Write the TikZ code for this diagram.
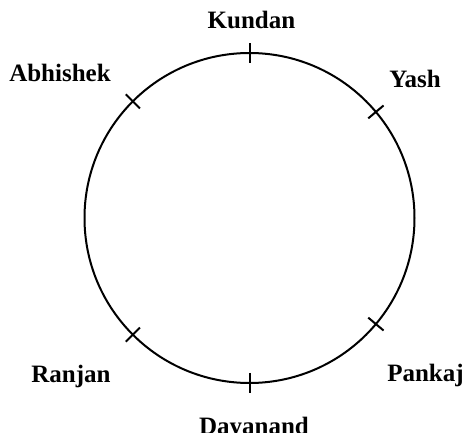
\documentclass[tikz,border=0pt]{standalone}
\usepackage{fontspec}
\setmainfont{Liberation Serif}
\usetikzlibrary{calc}
\begin{document}
\begin{tikzpicture}[x=1pt,y=-1pt,
  ring/.style={line width=2pt},
  tick/.style={line width=2pt},
  lbl/.style={anchor=base,inner sep=0pt,font=\fontsize{25}{30}\selectfont\bfseries}]
\useasboundingbox (0,0) rectangle (467,433);
\coordinate (c) at (249.5,218);
\draw[ring] (c) circle[radius=165];
\foreach \a in {90,40,-40,270,225,135}{
  \draw[tick] ($(c)+(-\a:155)$) -- ($(c)+(-\a:175)$);
}
\node[lbl] (kundan) at (251.5,29) {Kundan};
\node[lbl] (yash) at (415,88) {Yash};
\node[lbl] (abhishek) at (60,82) {Abhishek};
\node[lbl] (pankaj) at (425.5,382) {Pankaj};
\node[lbl] (ranjan) at (71,383) {Ranjan};
\node[lbl] (dayanand) at (254,435) {Dayanand};
\end{tikzpicture}
\end{document}
